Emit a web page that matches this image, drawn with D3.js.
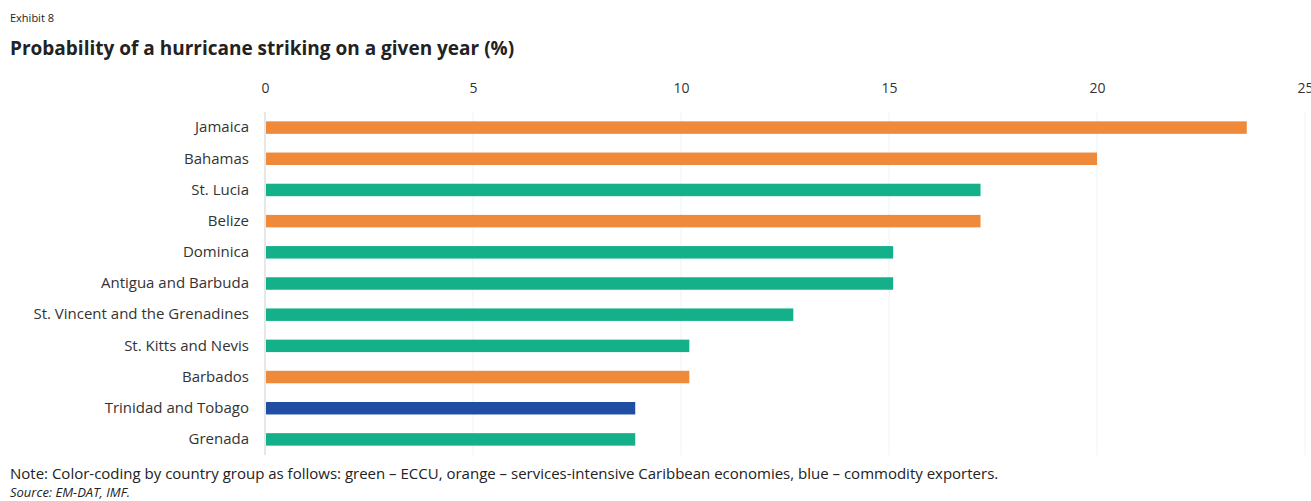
<!DOCTYPE html>
<html>
<head>
<meta charset="utf-8">
<script src="https://cdn.jsdelivr.net/npm/d3@7"></script>
<style>
  body { margin: 0; background: #fff; }
  text { font-family: "Open Sans", sans-serif; fill: #222; }
</style>
</head>
<body>
<div id="chart"></div>
<script>
// country names, top to bottom
var countries = ["Jamaica", "Bahamas", "St. Lucia", "Belize", "Dominica", "Antigua and Barbuda",
  "St. Vincent and the Grenadines", "St. Kitts and Nevis", "Barbados", "Trinidad and Tobago", "Grenada"];
var probability = [23.6, 20.0, 17.2, 17.2, 15.1, 15.1, 12.7, 10.2, 10.2, 8.9, 8.9];
var group = ["services", "services", "eccu", "services", "eccu", "eccu", "eccu", "eccu", "services", "commodity", "eccu"];
var groupNames = ["eccu", "services", "commodity"];
var groupColors = ["#13b089", "#f08a3b", "#1f4ea3"];
var xTicks = [0, 5, 10, 15, 20, 25];

var W = 1311, H = 501;
var margin = {top: 112, left: 265, right: 6, bottom: 46};
var width = W - margin.left - margin.right,
    height = H - margin.top - margin.bottom;

var svg = d3.select("#chart").append("svg")
    .attr("width", W)
    .attr("height", H);

svg.append("text")
    .attr("x", 10).attr("y", 22)
    .style("font-size", "11px")
    .text("Exhibit 8");
svg.append("text")
    .attr("x", 10).attr("y", 55)
    .style("font-size", "19px")
    .style("font-weight", "bold")
    .text("Probability of a hurricane striking on a given year (%)");

var g = svg.append("g")
    .attr("transform", "translate(" + margin.left + "," + margin.top + ")");

var xScale = d3.scaleLinear().domain([0, 25]).range([0, width]);
var yScale = d3.scaleBand().domain(countries).range([0, height]).paddingInner(0.6).paddingOuter(0.3);
var colorScale = d3.scaleOrdinal().domain(groupNames).range(groupColors);

// grid
g.selectAll(".grid")
    .data(xTicks)
    .enter().append("line")
    .attr("class", "grid")
    .attr("x1", function(d) { return xScale(d); })
    .attr("x2", function(d) { return xScale(d); })
    .attr("y1", 0)
    .attr("y2", height)
    .style("stroke", function(d) { return d == 0 ? "#cfcfcf" : "#eef2f4"; })
    .style("stroke-width", "1px");

var xAxis = d3.axisTop(xScale).tickValues(xTicks).tickSize(0).tickPadding(0);
g.append("g")
    .attr("class", "axis axis--x")
    .attr("transform", "translate(0,-19)")
    .call(xAxis)
    .call(function(s) { s.select(".domain").remove(); })
    .selectAll("text")
    .style("font-size", "14px")
    .style("fill", "#333");

var yAxis = d3.axisLeft(yScale).tickSize(0).tickPadding(16);
g.append("g")
    .attr("class", "axis axis--y")
    .call(yAxis)
    .call(function(s) { s.select(".domain").remove(); })
    .selectAll("text")
    .style("font-size", "15px")
    .style("fill", "#333");

g.selectAll(".bar")
    .data(countries)
    .enter().append("rect")
    .attr("class", "bar")
    .attr("x", xScale(0) + 1)
    .attr("y", function(d) { return yScale(d); })
    .attr("width", function(d, i) { return xScale(probability[i]) - xScale(0) - 1; })
    .attr("height", yScale.bandwidth())
    .style("fill", function(d, i) { return colorScale(group[i]); });

svg.append("text")
    .attr("x", 10).attr("y", 479)
    .style("font-size", "15px")
    .text("Note: Color-coding by country group as follows: green \u2013 ECCU, orange \u2013 services-intensive Caribbean economies, blue \u2013 commodity exporters.");
svg.append("text")
    .attr("x", 10).attr("y", 497)
    .style("font-size", "13px")
    .style("font-style", "italic")
    .text("Source: EM-DAT, IMF.");
</script>
</body>
</html>
